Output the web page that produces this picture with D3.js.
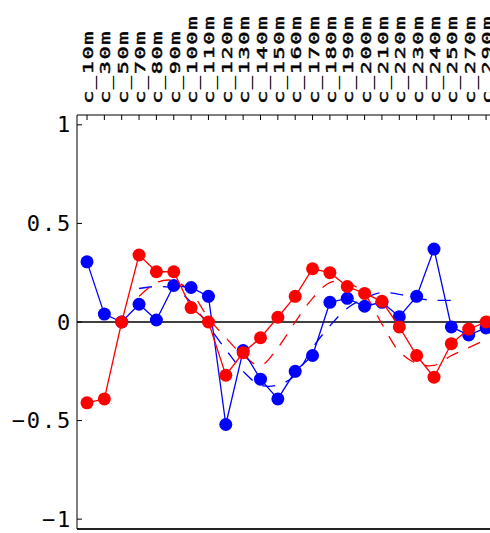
<!DOCTYPE html>
<html><head><meta charset="utf-8">
<script src="https://cdn.jsdelivr.net/npm/d3@7"></script>
<style>html,body{margin:0;padding:0;background:#fff;overflow:hidden}</style>
</head><body>
<svg id="chart" width="490" height="533"></svg>
<script>
const categories = ["c_10m","c_30m","c_50m","c_70m","c_80m","c_90m","c_100m","c_110m","c_120m","c_130m","c_140m","c_150m","c_160m","c_170m","c_180m","c_190m","c_200m","c_210m","c_220m","c_230m","c_240m","c_250m","c_270m","c_290m"];
const blueValues = [0.305,0.04,0.0,0.09,0.01,0.185,0.175,0.13,-0.52,-0.145,-0.29,-0.39,-0.25,-0.17,0.10,0.12,0.08,0.10,0.027,0.13,0.37,-0.025,-0.066,-0.03];
const redValues = [-0.41,-0.39,0.0,0.34,0.255,0.255,0.073,0.0,-0.27,-0.156,-0.08,0.024,0.13,0.27,0.25,0.18,0.145,0.105,-0.025,-0.17,-0.28,-0.11,-0.036,0.0];
// dashed (smoothed) series, starting at index 3
const blueSmoothStart = 3;
const blueSmooth = [0.17,0.18,0.17,0.10,-0.02,-0.14,-0.25,-0.32,-0.32,-0.27,-0.13,-0.02,0.07,0.12,0.15,0.14,0.12,0.11,0.11];
const redSmoothStart = 3;
const redSmooth = [0.13,0.2,0.21,0.15,0.02,-0.08,-0.17,-0.22,-0.13,0.0,0.12,0.2,0.2,0.14,-0.01,-0.15,-0.21,-0.22,-0.17,-0.13,-0.09];
const yTicks = [1,0.5,0,-0.5,-1];
const yTickLabels = ["1","0.5","0","\u22120.5","\u22121"];

const svg = d3.select("#chart");
const pLeft = 77, pTop = 115, pBottom = 529, pRight = 520;
const x = d3.scaleLinear().domain([0,1]).range([87,104.35]);
const y = d3.scaleLinear().domain([-1.05,1.05]).range([pBottom, pTop]);
const font = "'DejaVu Sans Mono', monospace";

// frame
svg.append("line").attr("x1",pLeft).attr("x2",pRight).attr("y1",pTop).attr("y2",pTop).attr("stroke","#000").attr("stroke-width",1);
svg.append("line").attr("x1",pLeft).attr("x2",pRight).attr("y1",pBottom).attr("y2",pBottom).attr("stroke","#222").attr("stroke-width",2);
svg.append("line").attr("x1",pLeft).attr("x2",pLeft).attr("y1",pTop).attr("y2",pBottom).attr("stroke","#000").attr("stroke-width",1);

// top category ticks and labels
categories.forEach((c,i)=>{
  svg.append("line").attr("x1",x(i)).attr("x2",x(i)).attr("y1",pTop).attr("y2",pTop+5).attr("stroke","#000").attr("stroke-width",1);
  svg.append("text").text(c)
    .attr("transform",`translate(${x(i)+6},104) rotate(-90) scale(1,0.62)`)
    .attr("font-family",font).attr("font-size",22).attr("letter-spacing","1.6px")
    .attr("fill","#000").attr("stroke","#000").attr("stroke-width",0.7);
});

// y ticks
yTicks.forEach((t,i)=>{
  svg.append("line").attr("x1",pLeft).attr("x2",pLeft+5).attr("y1",y(t)).attr("y2",y(t)).attr("stroke","#000");
  svg.append("text").text(yTickLabels[i]).attr("x",72).attr("y",y(t))
    .attr("text-anchor","end").attr("dominant-baseline","central")
    .attr("font-family",font).attr("font-size",22).attr("letter-spacing","1.8px").attr("fill","#000");
});

// zero line
svg.append("line").attr("x1",pLeft).attr("x2",pRight).attr("y1",y(0)).attr("y2",y(0)).attr("stroke","#000").attr("stroke-width",1.5);

const smoothLine = d3.line().x(d=>x(d.i)).y(d=>y(d.v)).curve(d3.curveCatmullRom);
svg.append("path").datum(blueSmooth.map((v,k)=>({i:k+blueSmoothStart,v})))
  .attr("d",smoothLine).attr("fill","none").attr("stroke","#0000ff").attr("stroke-width",1.3).attr("stroke-dasharray","13,11");
svg.append("path").datum(redSmooth.map((v,k)=>({i:k+redSmoothStart,v})))
  .attr("d",smoothLine).attr("fill","none").attr("stroke","#ff0000").attr("stroke-width",1.3).attr("stroke-dasharray","13,11");

const line = d3.line().x((d,i)=>x(i)).y(d=>y(d));
function series(vals,color){
  svg.append("path").datum(vals).attr("d",line).attr("fill","none").attr("stroke",color).attr("stroke-width",1.3);
  svg.append("g").selectAll("circle").data(vals).join("circle")
    .attr("cx",(d,i)=>x(i)).attr("cy",d=>y(d)).attr("r",6.5).attr("fill",color);
}
series(blueValues,"#0000ff");
series(redValues,"#ff0000");
</script>
</body></html>
